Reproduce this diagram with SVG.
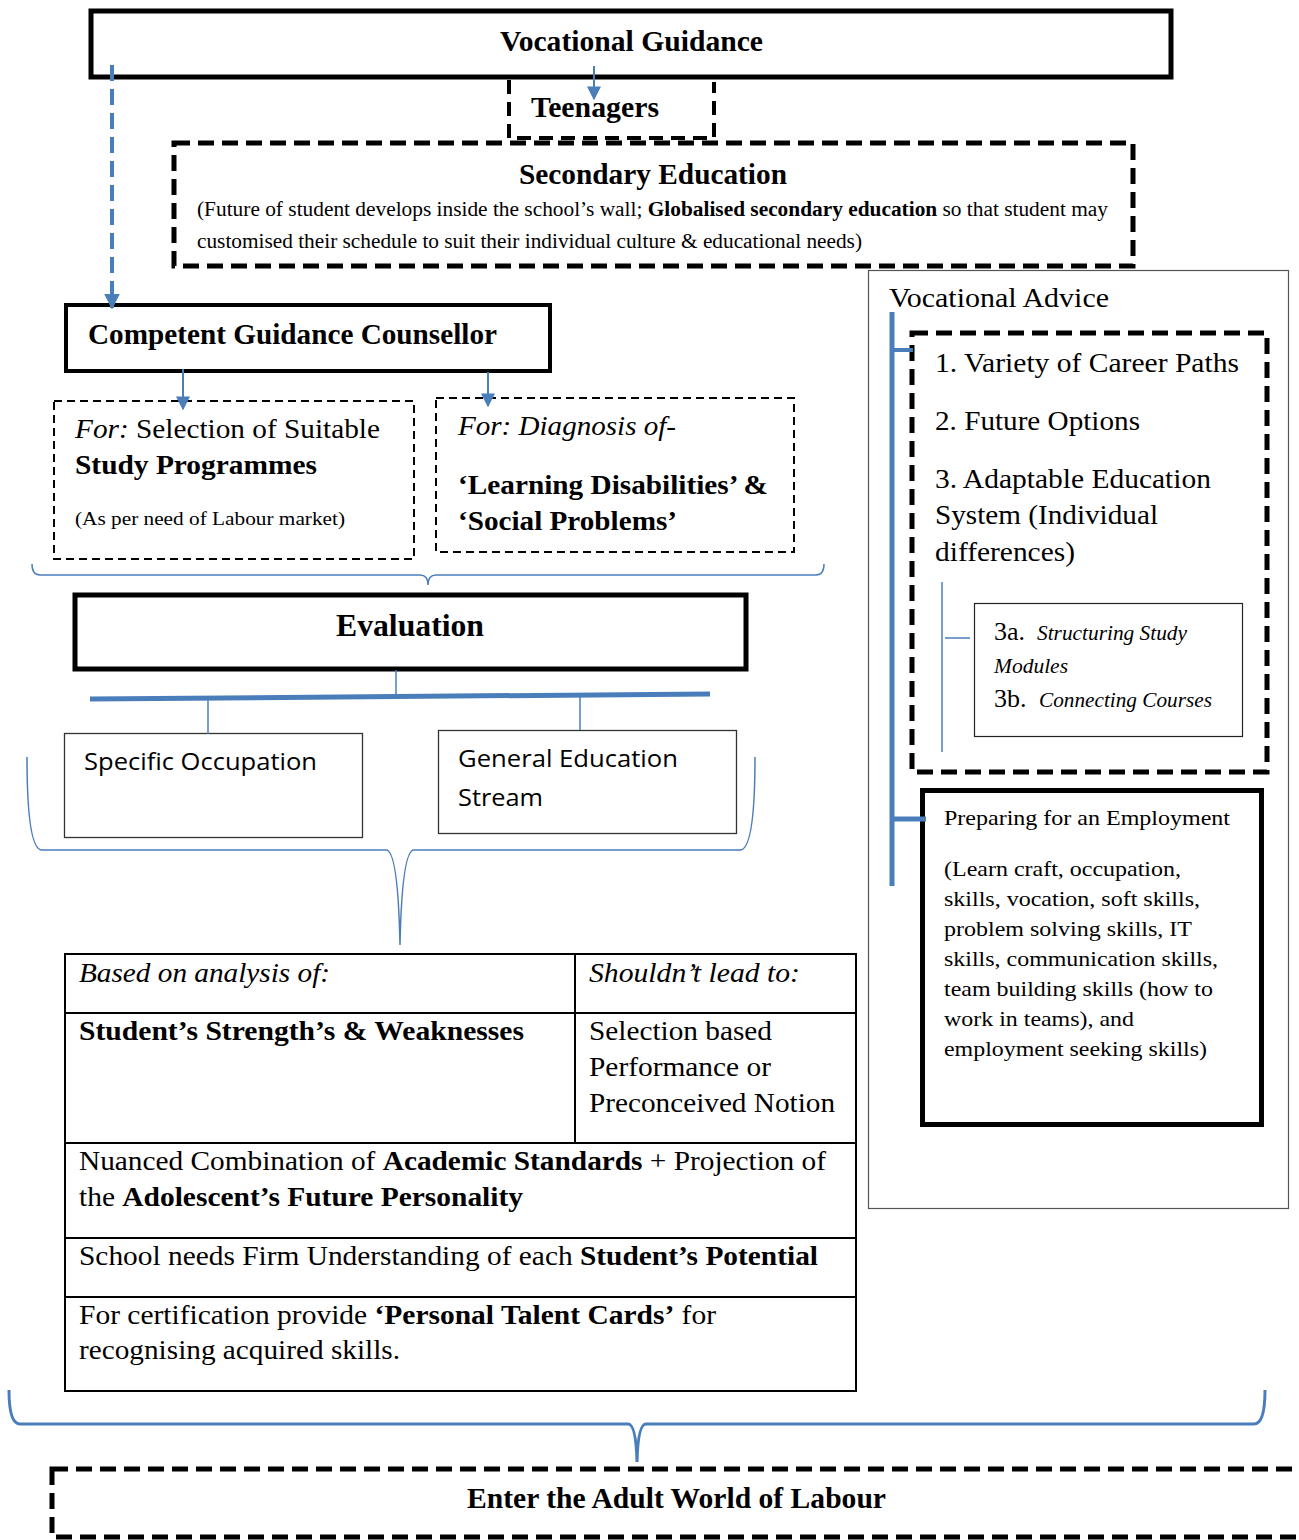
<svg xmlns="http://www.w3.org/2000/svg" width="1299" height="1540" viewBox="0 0 1299 1540">
<defs>
<marker id="ahs" viewBox="0 0 10 10" refX="9" refY="5" markerWidth="14" markerHeight="14" orient="auto" markerUnits="userSpaceOnUse">
<path d="M0,0 L10,5 L0,10 z" fill="#4A7EBB"/>
</marker>
<marker id="ahb" viewBox="0 0 10 10" refX="9" refY="5" markerWidth="16" markerHeight="16" orient="auto" markerUnits="userSpaceOnUse">
<path d="M0,0 L10,5 L0,10 z" fill="#4A7EBB"/>
</marker>
</defs>
<style>
text{font-family:"Liberation Serif","Times New Roman",serif;fill:#000}
.b{font-weight:bold}
.i{font-style:italic}
.sans{font-family:"Open Sans","Liberation Sans",sans-serif}
.solid{fill:#fff;stroke:#000;stroke-width:5}
.thick-dash{fill:#fff;stroke:#000;stroke-width:5;stroke-dasharray:16 8}
.thin-dash{fill:#fff;stroke:#000;stroke-width:2;stroke-dasharray:8 5}
.thin{fill:#fff;stroke:#333;stroke-width:1.3}
.blue{fill:none;stroke:#4A7EBB}
</style>

<g id="node-vocational-guidance">
<rect class="solid" x="91" y="11" width="1080" height="66"/>
<text class="b" x="500" y="51" font-size="30" textLength="263" lengthAdjust="spacingAndGlyphs">Vocational Guidance</text>
</g>

<g id="node-teenagers">
<path d="M509,80 V138 H714 V82" fill="none" stroke="#000" stroke-width="4" stroke-dasharray="14 8"/>
<text class="b" x="531" y="117" font-size="29" textLength="128" lengthAdjust="spacingAndGlyphs">Teenagers</text>
</g>

<g id="node-secondary-education">
<rect class="thick-dash" x="174" y="143" width="959" height="123"/>
<text class="b" x="519" y="184" font-size="30" textLength="268" lengthAdjust="spacingAndGlyphs">Secondary Education</text>
<text x="197" y="216" font-size="20" textLength="911" lengthAdjust="spacingAndGlyphs">(Future of student develops inside the school’s wall; <tspan class="b">Globalised secondary education</tspan> so that student may</text>
<text x="197" y="248" font-size="20" textLength="665" lengthAdjust="spacingAndGlyphs">customised their schedule to suit their individual culture &amp; educational needs)</text>
</g>

<g id="node-vocational-advice">
<rect x="868.5" y="270.5" width="420" height="938" fill="#fff" stroke="#555" stroke-width="1.2"/>
<text x="889" y="307" font-size="27" textLength="220" lengthAdjust="spacingAndGlyphs">Vocational Advice</text>
</g>

<g id="node-advice-list">
<rect class="thick-dash" x="912" y="333" width="355" height="439"/>
<text x="935" y="372" font-size="27" textLength="304" lengthAdjust="spacingAndGlyphs">1. Variety of Career Paths</text>
<text x="935" y="430" font-size="27" textLength="205" lengthAdjust="spacingAndGlyphs">2. Future Options</text>
<text x="935" y="488" font-size="27" textLength="276" lengthAdjust="spacingAndGlyphs">3. Adaptable Education</text>
<text x="935" y="524" font-size="27" textLength="223" lengthAdjust="spacingAndGlyphs">System (Individual</text>
<text x="935" y="561" font-size="27" textLength="140" lengthAdjust="spacingAndGlyphs">differences)</text>
</g>

<g id="node-3a-3b">
<rect x="974.5" y="603.5" width="268" height="133" fill="#fff" stroke="#222" stroke-width="1.2"/>
<text x="994" y="640" font-size="26">3a.</text>
<text class="i" x="1037" y="640" font-size="21" textLength="150" lengthAdjust="spacingAndGlyphs">Structuring Study</text>
<text class="i" x="994" y="673" font-size="21" textLength="74" lengthAdjust="spacingAndGlyphs">Modules</text>
<text x="994" y="707" font-size="26">3b.</text>
<text class="i" x="1039" y="707" font-size="21" textLength="173" lengthAdjust="spacingAndGlyphs">Connecting Courses</text>
</g>

<g id="node-preparing-employment">
<rect x="922.5" y="790.5" width="339" height="334" fill="#fff" stroke="#000" stroke-width="5"/>
<text x="944" y="825" font-size="21" textLength="286" lengthAdjust="spacingAndGlyphs">Preparing for an Employment</text>
<text x="944" y="876" font-size="21" textLength="237" lengthAdjust="spacingAndGlyphs">(Learn craft, occupation,</text>
<text x="944" y="906" font-size="21" textLength="256" lengthAdjust="spacingAndGlyphs">skills, vocation, soft skills,</text>
<text x="944" y="936" font-size="21" textLength="248" lengthAdjust="spacingAndGlyphs">problem solving skills, IT</text>
<text x="944" y="966" font-size="21" textLength="274" lengthAdjust="spacingAndGlyphs">skills, communication skills,</text>
<text x="944" y="996" font-size="21" textLength="269" lengthAdjust="spacingAndGlyphs">team building skills (how to</text>
<text x="944" y="1026" font-size="21" textLength="190" lengthAdjust="spacingAndGlyphs">work in teams), and</text>
<text x="944" y="1056" font-size="21" textLength="263" lengthAdjust="spacingAndGlyphs">employment seeking skills)</text>
</g>

<g id="node-counsellor">
<rect x="66" y="305" width="484" height="66" fill="#fff" stroke="#000" stroke-width="4"/>
<text class="b" x="88" y="344" font-size="30" textLength="409" lengthAdjust="spacingAndGlyphs">Competent Guidance Counsellor</text>
</g>

<g id="node-selection">
<rect class="thin-dash" x="54" y="401" width="360" height="158"/>
<text x="75" y="438" font-size="28" textLength="305" lengthAdjust="spacingAndGlyphs"><tspan class="i">For:</tspan> Selection of Suitable</text>
<text class="b" x="75" y="474" font-size="28" textLength="242" lengthAdjust="spacingAndGlyphs">Study Programmes</text>
<text x="75" y="525" font-size="19" textLength="270" lengthAdjust="spacingAndGlyphs">(As per need of Labour market)</text>
</g>

<g id="node-diagnosis">
<rect class="thin-dash" x="436" y="398" width="358" height="154"/>
<text class="i" x="458" y="435" font-size="28" textLength="218" lengthAdjust="spacingAndGlyphs">For: Diagnosis of-</text>
<text class="b" x="458" y="494" font-size="28" textLength="310" lengthAdjust="spacingAndGlyphs">‘Learning Disabilities’ &amp;</text>
<text class="b" x="458" y="530" font-size="28" textLength="219" lengthAdjust="spacingAndGlyphs">‘Social Problems’</text>
</g>

<g id="node-evaluation">
<rect class="solid" x="75" y="595" width="671" height="74"/>
<text class="b" x="336" y="636" font-size="32" textLength="148" lengthAdjust="spacingAndGlyphs">Evaluation</text>
</g>

<g id="node-specific-occupation">
<rect class="thin" x="64.5" y="733.5" width="298" height="104"/>
<text class="sans" x="84" y="770" font-size="24" textLength="233" lengthAdjust="spacingAndGlyphs">Specific Occupation</text>
</g>

<g id="node-general-education">
<rect class="thin" x="438.5" y="730.5" width="298" height="103"/>
<text class="sans" x="458" y="767" font-size="24" textLength="220" lengthAdjust="spacingAndGlyphs">General Education</text>
<text class="sans" x="458" y="806" font-size="24" textLength="85" lengthAdjust="spacingAndGlyphs">Stream</text>
</g>

<g id="node-analysis-table">
<rect x="65" y="954" width="791" height="437" fill="#fff" stroke="#000" stroke-width="2"/>
<path d="M65,1013 H856 M65,1143 H856 M65,1238 H856 M65,1297 H856 M575,954 V1143" stroke="#000" stroke-width="2" fill="none"/>
<text class="i" x="79" y="982" font-size="28" textLength="251" lengthAdjust="spacingAndGlyphs">Based on analysis of:</text>
<text class="i" x="589" y="982" font-size="28" textLength="211" lengthAdjust="spacingAndGlyphs">Shouldn’t lead to:</text>
<text class="b" x="79" y="1040" font-size="28" textLength="445" lengthAdjust="spacingAndGlyphs">Student’s Strength’s &amp; Weaknesses</text>
<text x="589" y="1040" font-size="28" textLength="183" lengthAdjust="spacingAndGlyphs">Selection based</text>
<text x="589" y="1076" font-size="28" textLength="182" lengthAdjust="spacingAndGlyphs">Performance or</text>
<text x="589" y="1112" font-size="28" textLength="246" lengthAdjust="spacingAndGlyphs">Preconceived Notion</text>
<text x="79" y="1170" font-size="28" textLength="747" lengthAdjust="spacingAndGlyphs">Nuanced Combination of <tspan class="b">Academic Standards</tspan> + Projection of</text>
<text x="79" y="1206" font-size="28" textLength="444" lengthAdjust="spacingAndGlyphs">the <tspan class="b">Adolescent’s Future Personality</tspan></text>
<text x="79" y="1265" font-size="28" textLength="739" lengthAdjust="spacingAndGlyphs">School needs Firm Understanding of each <tspan class="b">Student’s Potential</tspan></text>
<text x="79" y="1324" font-size="28" textLength="637" lengthAdjust="spacingAndGlyphs">For certification provide <tspan class="b">‘Personal Talent Cards’</tspan> for</text>
<text x="79" y="1359" font-size="28" textLength="321" lengthAdjust="spacingAndGlyphs">recognising acquired skills.</text>
</g>

<g id="node-adult-world">
<rect class="thick-dash" x="52" y="1469" width="1260" height="68"/>
<text class="b" x="467" y="1508" font-size="30" textLength="419" lengthAdjust="spacingAndGlyphs">Enter the Adult World of Labour</text>
</g>

<g id="connectors">
<line class="blue" x1="112" y1="65" x2="112" y2="308" stroke-width="4" stroke-dasharray="16 8" marker-end="url(#ahb)"/>
<line class="blue" x1="594" y1="66" x2="594" y2="99" stroke-width="2" marker-end="url(#ahs)"/>
<line class="blue" x1="183" y1="369" x2="183" y2="409" stroke-width="2" marker-end="url(#ahs)"/>
<line class="blue" x1="488" y1="372" x2="488" y2="406" stroke-width="2" marker-end="url(#ahs)"/>
<path class="blue" stroke-width="1.5" d="M32,564 Q32,575 40,575 H420 Q428,575 428,585 Q428,575 436,575 H816 Q824,575 824,564"/>
<line class="blue" x1="396" y1="670" x2="396" y2="697" stroke-width="1.5"/>
<line class="blue" x1="90" y1="699" x2="710" y2="694" stroke-width="5"/>
<line class="blue" x1="208" y1="699" x2="208" y2="734" stroke-width="1.5"/>
<line class="blue" x1="580" y1="696" x2="580" y2="730" stroke-width="1.5"/>
<path class="blue" stroke-width="1.5" d="M27,757 Q27,850 42,850 H386 Q398,850 400,945 M755,757 Q755,850 740,850 H414 Q402,850 400,945"/>
<line class="blue" x1="892" y1="312" x2="892" y2="886" stroke-width="5"/>
<line class="blue" x1="892" y1="350" x2="913" y2="350" stroke-width="4"/>
<line class="blue" x1="892" y1="819" x2="926" y2="819" stroke-width="5"/>
<line class="blue" x1="942" y1="582" x2="942" y2="752" stroke-width="1.5"/>
<line class="blue" x1="945" y1="638" x2="970" y2="638" stroke-width="1.5"/>
<path class="blue" stroke-width="3" d="M9,1390 Q9,1424 20,1424 H628 Q636,1424 637,1462 M1265,1390 Q1265,1424 1254,1424 H646 Q638,1424 637,1462"/>
</g>
</svg>
